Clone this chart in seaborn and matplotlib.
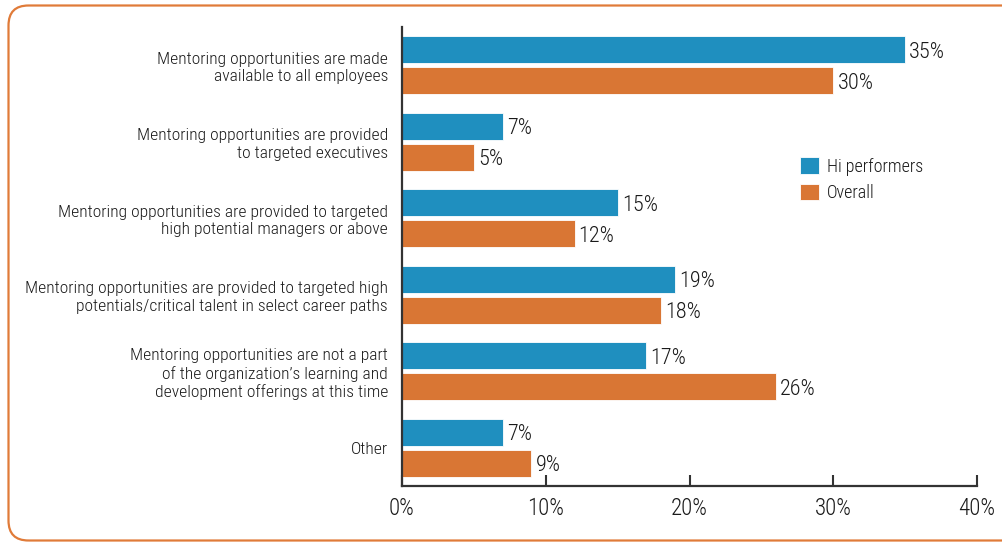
import matplotlib
matplotlib.use("Agg")
import matplotlib.pyplot as plt
from matplotlib import font_manager as fm
from matplotlib.patches import FancyBboxPatch
import pandas as pd
import seaborn as sns

# ---- data -------------------------------------------------------------
categories = [
    "Mentoring opportunities are made\navailable to all employees",
    "Mentoring opportunities are provided\nto targeted executives",
    "Mentoring opportunities are provided to targeted\nhigh potential managers or above",
    "Mentoring opportunities are provided to targeted high\npotentials/critical talent in select career paths",
    "Mentoring opportunities are not a part\nof the organization\u2019s learning and\ndevelopment offerings at this time",
    "Other",
]
series_names = ["Hi performers", "Overall"]
hi_performers = [35, 7, 15, 19, 17, 7]
overall = [30, 5, 12, 18, 26, 9]
x_ticks = [0, 10, 20, 30, 40]
x_tick_labels = ["0%", "10%", "20%", "30%", "40%"]

colors = {"Hi performers": "#1f8fbf", "Overall": "#d97634"}
text_color = "#1a1a1a"
axis_color = "#333333"

df = pd.DataFrame({
    "category": categories * 2,
    "series": [series_names[0]] * len(categories) + [series_names[1]] * len(categories),
    "value": hi_performers + overall,
})

# ---- style ------------------------------------------------------------
sns.set_theme(style="white")
available = {f.name for f in fm.fontManager.ttflist}
family = next((f for f in ["Roboto Condensed", "Archivo Narrow", "PT Sans Narrow",
                           "Liberation Sans Narrow", "DejaVu Sans"] if f in available), "DejaVu Sans")
plt.rcParams["font.family"] = [family, "DejaVu Sans"]
plt.rcParams["font.weight"] = 300
plt.rcParams["text.color"] = text_color

fig = plt.figure(figsize=(10.02, 5.42), dpi=100)
ax = fig.add_axes([402 / 1002, 1 - 486 / 542, 575 / 1002, 459 / 542])

sns.barplot(
    data=df, y="category", x="value", hue="series", orient="h",
    hue_order=series_names, order=categories, palette=colors, saturation=1,
    width=0.8, gap=0.12, edgecolor="white", linewidth=0.6,
    ax=ax, legend=True,
)

# value labels at the end of each bar
for container in ax.containers:
    for txt in ax.bar_label(container, fmt="{:.0f}%", padding=3, fontsize=16, color=text_color):
        txt.set_va("center_baseline")

# ---- axes ---------------------------------------------------------------
ax.set_xlim(0, 40)
ax.set_ylim(len(categories) - 0.5, -0.5)
ax.set_xticks(x_ticks)
ax.set_xticklabels(x_tick_labels, fontsize=16.5, color=text_color)
ax.set_xlabel("")
ax.set_ylabel("")
ax.tick_params(axis="x", direction="in", length=8, width=1.5, color=axis_color, pad=8, bottom=True)
ax.tick_params(axis="y", length=0, pad=10, labelsize=12.6, labelcolor=text_color)
for lbl in ax.get_yticklabels():
    lbl.set_linespacing(1.22)

for side in ("top", "right"):
    ax.spines[side].set_visible(False)
for side in ("left", "bottom"):
    ax.spines[side].set_color(axis_color)
    ax.spines[side].set_linewidth(1.6)
ax.grid(False)

# legend
handles, labels = ax.get_legend_handles_labels()
ax.legend(
    handles, labels, loc="upper left",
    bbox_to_anchor=(800 / 1002, 1 - 157 / 542), bbox_transform=fig.transFigure,
    frameon=False, fontsize=13, handlelength=1.05, handleheight=1.05,
    handletextpad=0.45, labelspacing=0.45, borderaxespad=0, borderpad=0,
)

# rounded frame around the whole figure
frame = FancyBboxPatch(
    (8.5 / 100, 1.5 / 100), 10.2, 5.35,
    boxstyle="round,pad=0,rounding_size=0.2",
    transform=fig.dpi_scale_trans, facecolor="none",
    edgecolor="#e07b39", linewidth=1.6, zorder=0,
)
fig.patches.append(frame)

fig.savefig("out.png", dpi=100)
